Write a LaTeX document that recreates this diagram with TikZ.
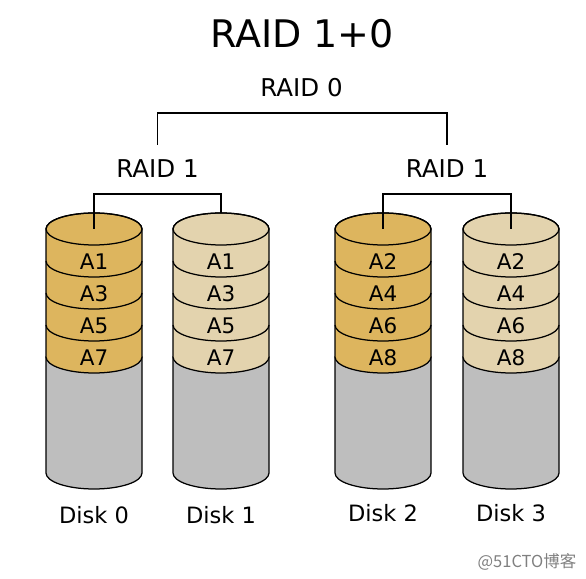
\documentclass[tikz,border=0pt]{standalone}
\usepackage{fontspec}
\setmainfont{DejaVu Sans}
\newfontfamily\cjk{Noto Sans CJK SC}
\definecolor{golddisk}{RGB}{221,181,94}
\definecolor{palegold}{RGB}{227,211,174}
\definecolor{diskgrey}{RGB}{190,190,190}
\usetikzlibrary{calc}

\begin{document}
\begin{tikzpicture}[x = 1pt, y = 1pt, line width = 1.25pt,
        raidlabel/.style = {anchor = base, inner sep = 0pt, font = \fontsize{24.5}{29}\selectfont},
        blocklabel/.style = {anchor = base, inner sep = 0pt, font = \fontsize{21.5}{25}\selectfont},
        disklabel/.style = {anchor = base, inner sep = 0pt, font = \fontsize{22.5}{26}\selectfont}]
        \useasboundingbox (0,0) rectangle (586,578);

        \node (title) [anchor = base, inner sep = 0pt, font = \fontsize{38}{45}\selectfont] at (302,530) {RAID 1+0};
        \node (raid0) [raidlabel] at (301.5,481) {RAID 0};
        \node (mirrorA) [raidlabel] at (157.5,400) {RAID 1};
        \node (mirrorB) [raidlabel] at (447,400) {RAID 1};

        % x / colour / first block / disk / label height
        \foreach \x/\col/\s/\n/\ly in {94/golddisk/1/0/54, 221/palegold/1/1/54, 383/golddisk/2/2/56, 511/palegold/2/3/56}
        {
            \filldraw [fill = diskgrey] (\x-48,221) -- (\x-48,105) arc [start angle = 180, end angle = 360, x radius = 48, y radius = 16] -- (\x+48,221) -- cycle;
            \filldraw [fill = \col] (\x-48,349) -- (\x-48,221) arc [start angle = 180, end angle = 360, x radius = 48, y radius = 16]
                -- (\x+48,349) arc [start angle = 0, end angle = 180, x radius = 48, y radius = 16] -- cycle;
            \draw (\x,349) ellipse [x radius = 48, y radius = 16];
            \foreach \y in {317, 285, 253}
            {
                \draw (\x-48,\y) arc [start angle = 180, end angle = 360, x radius = 48, y radius = 16];
            }
            \foreach \k in {0, ..., 3}
            {
                \pgfmathtruncatemacro{\blk}{\s+2*\k}
                \node (block\n\k) [blocklabel] at (\x, 308-32*\k) {A\blk};
            }
            \node (disk\n) [disklabel] at (\x,\ly) {Disk \n};
            \coordinate (top\n) at (\x,349);
            \coordinate (rim\n) at (\x,365);
        }

        \draw ([yshift = 33pt]mirrorA.base) |- ([yshift = -16pt]raid0.base) -| ([yshift = 33pt]mirrorB.base);
        \draw (top0) -- ++(0,35) -| (rim1);
        \draw (top2) -- ++(0,35) -| (top3);

        \node (mark) [anchor = base, inner sep = 0pt, text = gray, font = \cjk\fontsize{16.5}{19}\selectfont] at (527,10) {@51CTO博客};
    \end{tikzpicture}
\end{document}
